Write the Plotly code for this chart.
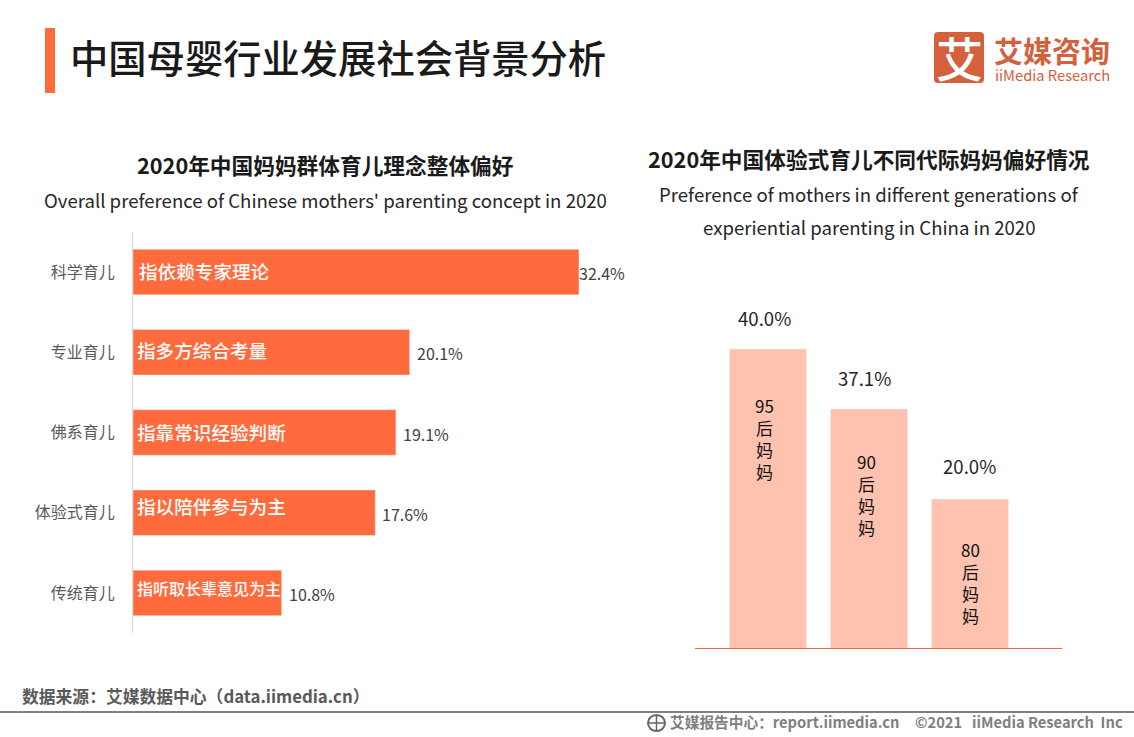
import plotly.graph_objects as go

W, H = 1134, 737
FONT = "Noto Sans CJK SC"
FONT_MEDIUM = "Noto Sans CJK SC Medium, Noto Sans CJK SC"

# left chart
concept_names = ["科学育儿", "专业育儿", "佛系育儿", "体验式育儿", "传统育儿"]
concept_values = [32.4, 20.1, 19.1, 17.6, 10.8]
concept_notes = ["指依赖专家理论", "指多方综合考量", "指靠常识经验判断", "指以陪伴参与为主", "指听取长辈意见为主"]
concept_labels = ["32.4%", "20.1%", "19.1%", "17.6%", "10.8%"]

# right chart: drawn bar heights, printed labels separately
generation_names = ["95后妈妈", "90后妈妈", "80后妈妈"]
generation_heights = [40.0, 32.0, 20.0]
generation_labels = ["40.0%", "37.1%", "20.0%"]
generation_notes = ["95<br>后<br>妈<br>妈", "90<br>后<br>妈<br>妈", "80<br>后<br>妈<br>妈"]


def px(x):
    return x / W


def py(y):
    return 1 - y / H


def text(x, y, s, size, color="#222222", anchor="center", bold=False, family=FONT):
    return dict(
        x=px(x), y=py(y), xref="paper", yref="paper", text=f"<b>{s}</b>" if bold else s,
        showarrow=False, xanchor=anchor, yanchor="middle",
        font=dict(size=size, color=color, family=family), align=anchor,
    )


ORANGE = "#FF6B3D"
PEACH = "#FFC2AE"
LOGO = "#D4603D"

fig = go.Figure()
fig.add_trace(go.Bar(
    x=concept_values, y=concept_names, orientation="h", marker_color=ORANGE,
    xaxis="x", yaxis="y", hoverinfo="skip", showlegend=False,
))
fig.add_trace(go.Bar(
    x=generation_names, y=generation_heights, marker_color=PEACH,
    xaxis="x2", yaxis="y2", hoverinfo="skip", showlegend=False,
))

ann = []
# header
ann.append(text(68, 56.5, "中国母婴行业发展社会背景分析", 38.3, "#1a1a1a", "left", family=FONT_MEDIUM))
ann.append(text(325, 164.5, "2020年中国妈妈群体育儿理念整体偏好", 21.7, "#1a1a1a", bold=True))
ann.append(text(325, 199.5, "Overall preference of Chinese mothers' parenting concept in 2020", 18.6, "#262626"))
ann.append(text(869, 158.5, "2020年中国体验式育儿不同代际妈妈偏好情况", 21.7, "#1a1a1a", bold=True))
ann.append(text(869, 193.5, "Preference of mothers in different generations of", 18.6, "#262626"))
ann.append(text(869, 226.5, "experiential parenting in China in 2020", 18.6, "#262626"))
# logo
ann.append(text(959, 57, "艾", 47, "#FFFFFF", family=FONT_MEDIUM))
ann.append(text(992, 50, "艾媒咨询", 29, LOGO, "left", bold=True))
ann.append(text(993, 75, "iiMedia Research", 14.7, LOGO, "left"))
# footer
ann.append(text(20, 695.5, "数据来源：艾媒数据中心（data.iimedia.cn）", 16.8, "#595959", "left", bold=True))
ann.append(text(668, 721.5, "艾媒报告中心：report.iimedia.cn", 14.7, "#7f7f7f", "left", bold=True))
ann.append(text(913, 721.5, "©2021", 14.7, "#7f7f7f", "left", bold=True))
ann.append(text(970, 721.5, "iiMedia Research  Inc", 14.7, "#7f7f7f", "left", bold=True))

# left labels
note_shift = [4, 2, 2, 2, 2]
note_size = [18.6, 18.6, 18.6, 18.6, 16]
note_yshift = [2, 3, 1, 7, 5]
label_shift = [-2, 5, 5, 5, 5]
for i, name in enumerate(concept_names):
    ann.append(dict(x=0, y=name, xref="x", yref="y", text=concept_notes[i], showarrow=False,
                    xanchor="left", xshift=note_shift[i], yshift=note_yshift[i],
                    font=dict(size=note_size[i], color="#FFFFFF", family=FONT_MEDIUM)))
    ann.append(dict(x=concept_values[i], y=name, xref="x", yref="y", text=concept_labels[i],
                    showarrow=False, xanchor="left", xshift=label_shift[i], yshift=-1,
                    font=dict(size=16, color="#404040", family=FONT)))

# right labels
top_shift = [48, 44, 42]
value_xshift = [-4, -5, -1]
value_yshift = [16, 16, 18]
note_xshift = [-4, -3, 0]
for i, name in enumerate(generation_names):
    ann.append(dict(x=name, y=generation_heights[i], xref="x2", yref="y2", text=generation_labels[i],
                    showarrow=False, yanchor="bottom", yshift=value_yshift[i], xshift=value_xshift[i],
                    font=dict(size=18.6, color="#262626", family=FONT)))
    ann.append(dict(x=name, y=generation_heights[i], xref="x2", yref="y2", text=generation_notes[i],
                    showarrow=False, yanchor="top", yshift=-top_shift[i] + 6, xshift=note_xshift[i],
                    font=dict(size=17, color="#111111", family=FONT)))

shapes = [
    dict(type="rect", xref="paper", yref="paper", x0=px(45), x1=px(55), y0=py(93), y1=py(28),
         fillcolor=ORANGE, line_width=0),
    dict(type="line", xref="paper", yref="paper", x0=0, x1=1, y0=py(712), y1=py(712),
         line=dict(color="#808080", width=2)),
    # logo tile, rounded
    dict(type="rect", xref="paper", yref="paper", x0=px(938), x1=px(980), y0=py(83), y1=py(32),
         fillcolor=LOGO, line_width=0),
    dict(type="rect", xref="paper", yref="paper", x0=px(934), x1=px(984), y0=py(79), y1=py(36),
         fillcolor=LOGO, line_width=0),
    dict(type="circle", xref="paper", yref="paper", x0=px(934), x1=px(942), y0=py(40), y1=py(32),
         fillcolor=LOGO, line_width=0),
    dict(type="circle", xref="paper", yref="paper", x0=px(976), x1=px(984), y0=py(40), y1=py(32),
         fillcolor=LOGO, line_width=0),
    dict(type="circle", xref="paper", yref="paper", x0=px(934), x1=px(942), y0=py(83), y1=py(75),
         fillcolor=LOGO, line_width=0),
    dict(type="circle", xref="paper", yref="paper", x0=px(976), x1=px(984), y0=py(83), y1=py(75),
         fillcolor=LOGO, line_width=0),
    # globe icon
    dict(type="circle", xref="paper", yref="paper", x0=px(648), x1=px(665), y0=py(731), y1=py(715),
         line=dict(color="#666666", width=2)),
    dict(type="line", xref="paper", yref="paper", x0=px(648), x1=px(665), y0=py(723), y1=py(723),
         line=dict(color="#666666", width=1.5)),
    dict(type="line", xref="paper", yref="paper", x0=px(656.5), x1=px(656.5), y0=py(731), y1=py(715),
         line=dict(color="#666666", width=1.5)),
    # baseline of the right chart
    dict(type="line", xref="paper", yref="paper", x0=px(695), x1=px(1062), y0=py(648.5), y1=py(648.5),
         line=dict(color="#F0693F", width=1)),
]

fig.update_layout(
    width=W, height=H, margin=dict(l=0, r=0, t=0, b=0), autosize=False,
    paper_bgcolor="#FFFFFF", plot_bgcolor="rgba(0,0,0,0)",
    barmode="overlay", showlegend=False,
    font=dict(family=FONT),
    annotations=ann, shapes=shapes,
    xaxis=dict(domain=[px(133), px(579)], range=[0, 32.4], visible=False, anchor="y", fixedrange=True),
    yaxis=dict(domain=[py(633), py(232)], type="category", categoryorder="array",
               categoryarray=concept_names, range=[4.5, -0.5], anchor="x", showgrid=False,
               showline=True, linecolor="#D9D9D9", linewidth=1, ticks="outside", ticklen=14,
               tickcolor="rgba(0,0,0,0)", tickfont=dict(size=16, color="#595959", family=FONT),
               fixedrange=True),
    xaxis2=dict(domain=[px(695), px(1062)], type="category", categoryorder="array",
                categoryarray=generation_names, range=[-0.723, 2.911], anchor="y2", showticklabels=False,
                ticks="", showgrid=False, showline=False, fixedrange=True),
    yaxis2=dict(domain=[py(649), py(349)], range=[0, 40], anchor="x2", visible=False, fixedrange=True),
)
fig.data[0].width = 45.5 / 80.2
fig.data[1].width = 77 / 101

fig.write_html("out.html", config={"displayModeBar": False},
               post_script="document.body.style.margin='0';")
